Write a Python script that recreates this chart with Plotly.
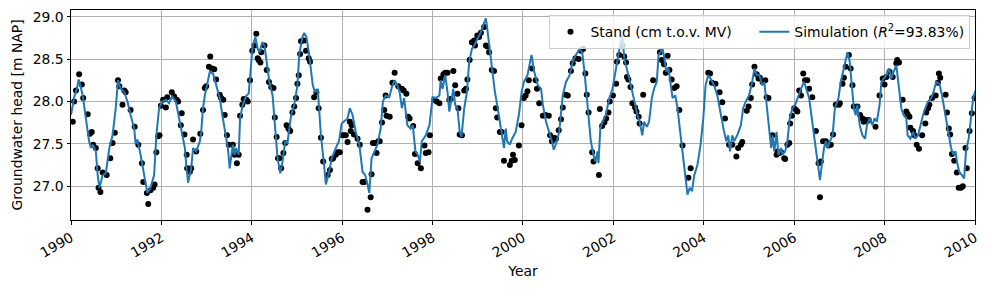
import pandas as pd
import plotly.graph_objects as go

# Simulation (decimal year, head in m NAP)
sim_year = [
 1990.00,1990.07,1990.13,1990.17,1990.21,1990.26,1990.33,1990.40,1990.44,1990.48,1990.55,1990.59,1990.63,1990.70,1990.77,1990.85,1990.92,1990.99,
 1991.04,1991.10,1991.18,1991.25,1991.32,1991.40,1991.43,1991.47,1991.54,1991.62,1991.69,1991.76,1991.84,1991.89,1991.95,
 1992.02,1992.10,1992.17,1992.24,1992.32,1992.39,1992.46,1992.52,1992.55,1992.59,1992.66,1992.70,1992.77,1992.85,1992.88,1992.92,1992.96,
 1993.03,1993.07,1993.14,1993.21,1993.29,1993.36,1993.43,1993.47,1993.51,1993.58,1993.62,1993.65,1993.71,1993.74,1993.80,1993.88,1993.93,1993.99,
 1994.02,1994.08,1994.13,1994.17,1994.23,1994.28,1994.33,1994.39,1994.46,1994.50,1994.54,1994.57,1994.63,1994.68,1994.74,1994.79,1994.87,1994.94,
 1995.01,1995.05,1995.12,1995.16,1995.21,1995.27,1995.35,1995.40,1995.46,1995.53,1995.60,1995.64,1995.71,1995.77,1995.86,1995.93,1995.99,
 1996.04,1996.12,1996.17,1996.23,1996.30,1996.38,1996.45,1996.51,1996.56,1996.60,1996.65,1996.71,1996.78,1996.85,1996.90,1996.96,
 1997.04,1997.11,1997.16,1997.22,1997.27,1997.32,1997.37,1997.44,1997.51,1997.56,1997.62,1997.67,1997.72,1997.76,1997.85,1997.93,
 1998.00,1998.07,1998.15,1998.18,1998.22,1998.28,1998.33,1998.37,1998.40,1998.46,1998.50,1998.55,1998.60,1998.64,1998.70,1998.76,1998.81,1998.87,1998.92,1998.99,
 1999.07,1999.12,1999.18,1999.21,1999.26,1999.32,1999.38,1999.43,1999.49,1999.54,1999.58,1999.62,1999.65,1999.71,1999.76,1999.84,1999.91,1999.97,
 2000.02,2000.10,2000.14,2000.19,2000.25,2000.33,2000.40,2000.44,2000.51,2000.58,2000.64,2000.68,2000.75,2000.80,2000.88,2000.95,
 2001.03,2001.10,2001.17,2001.25,2001.31,2001.36,2001.41,2001.45,2001.50,2001.56,2001.60,2001.65,2001.67,2001.71,2001.76,2001.83,2001.91,2001.98,
 2002.06,2002.11,2002.17,2002.20,2002.24,2002.28,2002.35,2002.42,2002.48,2002.53,2002.58,2002.64,2002.68,2002.74,2002.79,2002.85,2002.90,2002.96,
 2003.00,2003.04,2003.09,2003.13,2003.17,2003.22,2003.27,2003.31,2003.37,2003.42,2003.47,2003.53,2003.59,2003.64,2003.69,2003.74,2003.79,2003.86,2003.93,2003.99,
 2004.04,2004.10,2004.15,2004.23,2004.30,2004.35,2004.40,2004.45,2004.50,2004.54,2004.58,2004.63,2004.67,2004.74,2004.82,2004.87,2004.93,
 2005.00,2005.07,2005.12,2005.17,2005.23,2005.29,2005.34,2005.39,2005.43,2005.49,2005.52,2005.56,2005.61,2005.65,2005.71,2005.74,2005.80,2005.85,2005.90,2005.96,
 2006.02,2006.07,2006.13,2006.18,2006.22,2006.27,2006.33,2006.39,2006.44,2006.49,2006.54,2006.57,2006.63,2006.66,2006.70,2006.74,2006.79,2006.85,2006.90,2006.98,
 2007.03,2007.08,2007.14,2007.18,2007.23,2007.27,2007.32,2007.36,2007.40,2007.45,2007.51,2007.57,2007.61,2007.67,2007.73,2007.78,2007.83,2007.89,2007.93,2007.98,
 2008.04,2008.10,2008.15,2008.20,2008.26,2008.32,2008.37,2008.42,2008.48,2008.51,2008.57,2008.63,2008.68,2008.74,2008.79,2008.85,2008.90,2008.96,
 2009.03,2009.08,2009.14,2009.21,2009.27,2009.32,2009.38,2009.42,2009.47,2009.52,2009.57,2009.60,2009.65,2009.71,2009.76,2009.80,2009.86,2009.91,2009.96,2010.01]
sim_head = [
 27.84,28.05,28.15,28.26,28.18,28.07,27.80,27.53,27.45,27.49,27.41,27.13,26.98,27.13,27.15,27.45,27.60,27.92,
 28.25,28.15,28.11,28.00,27.84,27.68,27.50,27.55,27.37,27.13,26.92,26.98,27.13,27.60,27.92,
 28.00,28.02,27.98,28.06,28.00,27.80,27.60,27.45,27.25,27.04,27.21,27.45,27.41,27.53,27.64,27.92,28.07,
 28.23,28.35,28.33,28.19,28.04,27.80,27.60,27.45,27.21,27.49,27.37,27.45,27.37,27.80,27.96,28.07,28.09,28.47,
 28.66,28.76,28.62,28.58,28.70,28.66,28.43,28.23,28.07,27.80,27.60,27.33,27.15,27.29,27.53,27.51,27.84,27.96,
 28.19,28.55,28.76,28.81,28.76,28.55,28.19,28.11,28.15,27.60,27.25,27.02,27.17,27.33,27.45,27.53,27.74,
 27.76,27.80,27.92,27.84,27.64,27.49,27.17,27.13,27.02,26.92,27.33,27.41,27.49,27.68,28.00,28.07,
 28.05,28.19,28.25,28.19,28.11,27.92,28.04,27.72,27.68,27.72,27.41,27.37,27.29,27.53,27.60,27.72,
 28.05,28.04,28.07,28.25,28.15,28.31,28.11,27.88,27.96,28.15,27.96,27.92,27.64,27.58,27.92,28.11,28.47,28.62,28.66,28.74,
 28.82,28.90,28.98,28.86,28.62,28.39,28.11,27.96,27.76,27.60,27.45,27.68,27.53,27.49,27.56,27.64,27.84,28.11,
 28.23,28.31,28.43,28.55,28.35,28.19,28.15,27.96,27.76,27.64,27.53,27.43,27.53,27.64,28.07,28.23,
 28.31,28.47,28.55,28.62,28.58,28.35,28.07,27.80,27.53,27.37,27.29,27.41,27.27,27.68,27.76,27.84,28.04,28.15,
 28.43,28.55,28.74,28.78,28.51,28.43,28.27,28.11,27.96,27.84,27.76,27.60,27.76,27.70,27.76,28.04,28.15,28.23,
 28.55,28.58,28.62,28.51,28.35,28.39,28.19,28.04,28.07,27.92,27.68,27.41,27.13,26.90,26.98,26.94,27.13,27.25,27.49,27.80,
 28.19,28.31,28.27,28.19,28.07,27.92,27.80,27.64,27.53,27.60,27.41,27.60,27.53,27.60,27.72,27.92,28.00,
 28.07,28.23,28.39,28.31,28.31,28.19,28.23,27.96,27.72,27.45,27.60,27.41,27.64,27.37,27.45,27.37,27.41,27.53,27.80,27.92,
 27.96,28.04,28.11,28.19,28.23,28.15,28.04,27.80,27.60,27.37,27.17,27.07,27.33,27.45,27.53,27.45,27.53,27.60,27.92,28.04,
 28.23,28.35,28.51,28.58,28.47,28.23,27.92,27.84,27.96,27.72,27.60,27.56,27.72,27.80,27.72,27.80,27.76,27.96,28.23,28.27,
 28.31,28.39,28.27,28.35,28.43,28.15,27.92,27.84,27.80,27.60,27.56,27.64,27.56,27.60,27.72,27.84,27.92,28.00,
 28.04,28.11,28.23,28.21,28.07,27.92,27.76,27.64,27.45,27.37,27.41,27.29,27.17,27.13,27.09,27.41,27.56,27.80,28.04,28.13]

# Observations (decimal year, head in m NAP)
obs_year = [
 1990.04,1990.07,1990.11,1990.18,1990.24,1990.27,1990.37,1990.42,1990.46,1990.49,1990.55,1990.59,1990.61,1990.65,1990.70,1990.79,1990.87,1990.92,1990.97,
 1991.04,1991.07,1991.14,1991.18,1991.21,1991.32,1991.41,1991.49,1991.57,1991.60,1991.68,1991.71,1991.76,1991.82,1991.85,1991.89,1991.93,1991.96,1991.99,
 1992.04,1992.10,1992.13,1992.23,1992.28,1992.34,1992.37,1992.45,1992.43,1992.51,1992.56,1992.57,1992.63,1992.66,1992.70,1992.77,1992.86,1992.92,1992.96,1992.99,
 1993.05,1993.08,1993.12,1993.17,1993.21,1993.29,1993.32,1993.37,1993.40,1993.45,1993.49,1993.58,1993.62,1993.67,1993.71,1993.74,1993.79,1993.82,1993.88,1993.91,1993.96,
 1994.01,1994.06,1994.10,1994.13,1994.15,1994.19,1994.21,1994.28,1994.33,1994.38,1994.43,1994.48,1994.51,1994.55,1994.58,1994.61,1994.65,1994.70,1994.74,1994.77,1994.81,1994.85,1994.90,1994.94,1994.98,
 1995.01,1995.04,1995.07,1995.09,1995.16,1995.20,1995.26,1995.29,1995.38,1995.43,1995.48,1995.53,1995.58,1995.68,1995.73,1995.77,1995.80,1995.86,1995.90,1995.95,
 1996.01,1996.04,1996.08,1996.12,1996.17,1996.21,1996.19,1996.26,1996.34,1996.39,1996.45,1996.49,1996.56,1996.63,1996.65,1996.68,1996.73,1996.76,1996.80,1996.83,1996.88,1996.93,1996.98,1996.96,
 1997.05,1997.11,1997.16,1997.24,1997.32,1997.36,1997.42,1997.46,1997.49,1997.57,1997.61,1997.67,1997.74,1997.82,1997.85,1997.91,1997.94,
 1998.04,1998.09,1998.15,1998.18,1998.24,1998.28,1998.33,1998.37,1998.40,1998.46,1998.50,1998.55,1998.57,1998.60,1998.65,1998.70,1998.74,1998.77,1998.82,1998.87,1998.92,1998.94,1998.99,
 1999.03,1999.07,1999.14,1999.18,1999.21,1999.25,1999.31,1999.36,1999.40,1999.43,1999.49,1999.53,1999.58,1999.71,1999.75,1999.78,1999.82,1999.91,1999.97,
 2000.02,2000.06,2000.10,2000.13,2000.20,2000.28,2000.31,2000.36,2000.44,2000.50,2000.57,2000.60,2000.64,2000.69,2000.73,2000.79,2000.84,2000.88,2000.94,2000.99,
 2001.06,2001.10,2001.16,2001.23,2001.28,2001.33,2001.38,2001.41,2001.45,2001.53,2001.56,2001.68,2001.70,2001.75,2001.80,2001.84,2001.89,2001.92,2001.99,
 2002.06,2002.08,2002.13,2002.20,2002.24,2002.28,2002.30,2002.33,2002.38,2002.42,2002.48,2002.51,2002.56,2002.58,2002.66,2002.88,
 2003.03,2003.07,2003.12,2003.16,2003.20,2003.24,2003.29,2003.35,2003.40,2003.46,2003.53,2003.66,2003.71,
 2004.10,2004.14,2004.18,2004.26,2004.35,2004.41,2004.47,2004.56,2004.63,2004.72,2004.76,2004.82,2004.85,2004.95,2004.99,
 2005.04,2005.07,2005.12,2005.17,2005.21,2005.24,2005.30,2005.36,2005.39,2005.43,2005.52,2005.61,2005.63,2005.67,2005.71,2005.78,2005.80,2005.85,2005.89,2005.91,2005.95,
 2006.00,2006.04,2006.07,2006.11,2006.15,2006.20,2006.24,2006.29,2006.33,2006.40,2006.48,2006.54,2006.59,2006.57,2006.64,2006.70,2006.76,2006.81,2006.86,2006.92,2006.99,
 2007.01,2007.07,2007.10,2007.14,2007.21,2007.25,2007.29,2007.32,2007.40,2007.46,2007.51,2007.54,2007.58,2007.62,2007.65,2007.80,2007.89,2007.96,
 2008.00,2008.04,2008.11,2008.18,2008.26,2008.28,2008.32,2008.40,2008.48,2008.51,2008.55,2008.57,2008.63,2008.66,2008.71,2008.76,2008.83,2008.90,2008.92,2008.96,2008.99,
 2009.05,2009.13,2009.18,2009.20,2009.23,2009.35,2009.38,2009.42,2009.45,2009.49,2009.54,2009.60,2009.64,2009.69,2009.73,2009.79,2009.82,2009.88,2009.93,2009.99]
obs_head = [
 27.76,28.00,28.13,28.32,28.20,28.04,27.85,27.62,27.64,27.49,27.45,27.21,26.98,26.93,27.16,27.13,27.33,27.51,27.63,
 28.25,28.18,27.96,28.13,28.11,27.90,27.70,27.49,27.27,27.05,26.92,26.79,26.95,26.98,27.02,27.40,27.59,27.60,27.95,
 28.02,27.93,28.05,28.11,28.06,28.02,28.00,27.86,27.72,27.61,27.37,27.21,27.17,27.21,27.55,27.41,27.62,27.90,28.16,28.18,
 28.41,28.53,28.39,28.38,28.26,28.08,28.04,28.02,27.84,27.60,27.49,27.49,27.37,27.27,27.37,27.83,27.96,28.03,28.02,28.00,28.25,
 28.60,28.66,28.80,28.51,28.49,28.46,28.58,28.66,28.37,28.23,28.17,28.16,27.81,27.58,27.33,27.33,27.21,27.39,27.51,27.72,27.68,27.65,27.87,27.94,28.04,
 28.21,28.31,28.56,28.71,28.72,28.60,28.51,28.47,28.05,28.11,27.92,27.57,27.29,27.13,27.19,27.32,27.33,27.37,27.40,27.40,
 27.60,27.60,27.60,27.52,27.76,27.72,27.65,27.61,27.56,27.49,27.05,27.05,26.72,26.87,27.14,27.51,27.51,27.39,27.53,27.53,27.75,27.90,27.83,28.07,
 27.82,28.22,28.34,28.18,28.15,28.13,28.09,27.82,27.80,27.71,27.38,27.27,27.21,27.48,27.39,27.40,27.60,
 28.02,28.00,27.98,28.27,28.32,28.34,28.34,28.02,28.03,28.36,28.19,28.09,27.92,27.61,27.60,28.13,28.15,28.26,28.49,28.70,28.72,28.66,28.78,
 28.76,28.81,28.88,28.66,28.65,28.58,28.37,28.36,27.92,27.81,27.64,27.64,27.30,27.25,27.30,27.37,27.31,27.48,27.72,
 28.04,28.07,28.12,28.25,28.39,28.25,28.15,27.98,27.83,27.84,27.83,27.60,27.53,27.57,27.56,27.66,27.79,27.93,28.08,28.07,
 28.36,28.45,28.51,28.50,28.60,28.62,28.33,28.08,27.87,27.40,27.29,27.13,27.91,27.71,27.75,27.80,27.87,28.00,28.07,
 28.21,28.47,28.55,28.66,28.53,28.46,28.29,28.26,28.17,27.98,27.93,27.88,27.82,27.74,28.08,28.25,
 28.58,28.49,28.44,28.34,28.54,28.37,28.26,28.16,28.18,27.90,27.48,27.10,27.21,
 28.34,28.33,28.22,28.21,28.11,27.99,27.80,27.49,27.49,27.35,27.45,27.49,27.52,27.89,27.94,
 28.04,28.20,28.41,28.32,28.27,28.28,28.23,28.25,28.05,28.04,27.60,27.37,27.41,27.39,27.40,27.33,27.32,27.49,27.51,27.74,27.83,
 27.92,27.90,27.88,28.13,28.07,28.33,28.25,28.25,28.15,28.05,27.65,27.27,27.29,26.87,27.53,27.53,27.48,27.49,27.61,27.96,27.96,
 27.98,28.21,28.28,28.41,28.55,28.39,28.19,27.94,27.94,27.84,27.80,27.76,27.78,27.77,27.78,27.70,28.07,28.27,
 28.20,28.29,28.35,28.29,28.45,28.49,28.46,28.02,27.88,27.85,27.82,27.69,27.65,27.60,27.49,27.44,27.60,27.74,27.87,27.92,27.96,
 28.04,28.07,28.22,28.33,28.28,28.08,27.87,27.68,27.61,27.38,27.30,27.16,26.98,26.98,27.00,27.45,27.21,27.65,27.86,28.04]

tick_years = [1990, 1992, 1994, 1996, 1998, 2000, 2002, 2004, 2006, 2008, 2010]
y_ticks = [27.0, 27.5, 28.0, 28.5, 29.0]


def to_date(y):
    yr = int(y)
    frac = y - yr
    start = pd.Timestamp(year=yr, month=1, day=1)
    end = pd.Timestamp(year=yr + 1, month=1, day=1)
    return start + (end - start) * frac


sim_dates = [to_date(v) for v in sim_year]
obs_dates = [to_date(v) for v in obs_year]
tick_dates = [pd.Timestamp(year=y, month=1, day=1) for y in tick_years]

FONT = "DejaVu Sans"
FS = 13.9

fig = go.Figure()
fig.add_trace(go.Scatter(
    x=obs_dates, y=obs_head, mode="markers",
    marker=dict(color="black", size=6, line=dict(width=0)),
    name="Stand (cm t.o.v. MV)\u00a0\u00a0\u00a0\u00a0"))
fig.add_trace(go.Scatter(
    x=sim_dates, y=sim_head, mode="lines",
    line=dict(color="#1f77b4", width=2),
    name="Simulation (<i>R</i><sup>2</sup>=93.83%)"))

axis_common = dict(
    showline=True, linecolor="black", linewidth=1, mirror=True,
    ticks="outside", ticklen=3.5, tickwidth=0.8, tickcolor="black",
    showgrid=True, gridcolor="#b0b0b0", gridwidth=0.8,
    zeroline=False, tickfont=dict(family=FONT, size=FS, color="black"),
)

fig.update_layout(
    width=989, height=289,
    margin=dict(l=71, r=9, t=9, b=69),
    paper_bgcolor="white", plot_bgcolor="white",
    font=dict(family=FONT, size=FS, color="black"),
    showlegend=True,
    legend=dict(
        orientation="h", x=0.995, y=0.975, xanchor="right", yanchor="top",
        bgcolor="rgba(255,255,255,0.8)", bordercolor="#cccccc", borderwidth=1,
        font=dict(family=FONT, size=FS, color="black"),
    ),
    xaxis=dict(
        **axis_common,
        type="date",
        range=[tick_dates[0], tick_dates[-1]],
        tickvals=tick_dates, ticktext=[str(y) for y in tick_years],
        tickangle=-30,
        title=dict(text="Year", font=dict(family=FONT, size=FS), standoff=6),
    ),
    yaxis=dict(
        **axis_common,
        range=[26.6, 29.08],
        tickvals=y_ticks, ticktext=[f"{v:.1f}" for v in y_ticks],
        title=dict(text="Groundwater head [m NAP]", font=dict(family=FONT, size=FS), standoff=6),
    ),
)

fig.write_html("out.html")
